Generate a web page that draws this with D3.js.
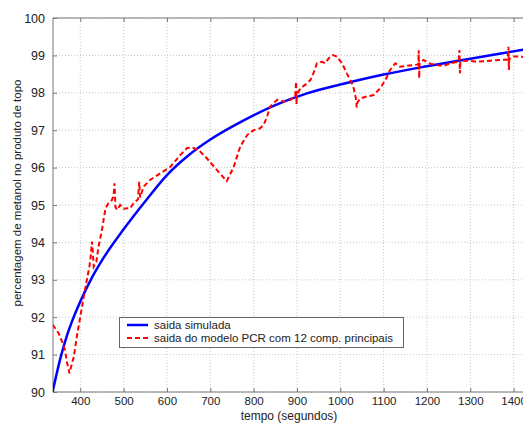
<!DOCTYPE html>
<html>
<head>
<meta charset="utf-8">
<script src="https://cdn.jsdelivr.net/npm/d3@7"></script>
<style>
  html, body { margin: 0; padding: 0; background: #fff; overflow: hidden; }
  svg { display: block; font-family: "Liberation Sans", Arial, sans-serif; }
</style>
</head>
<body>
<svg id="chart" width="523" height="423"></svg>
<script>
// ---- data ----
const xTicks = [400, 500, 600, 700, 800, 900, 1000, 1100, 1200, 1300, 1400];
const yTicks = [90, 91, 92, 93, 94, 95, 96, 97, 98, 99, 100];

const simTime = [336, 354, 369, 380, 400, 425, 450, 500, 550, 600, 650, 700, 775, 850, 925, 1000, 1100, 1200, 1300, 1425];
const simValue = [90.0, 90.9, 91.5, 91.86, 92.42, 93.02, 93.52, 94.35, 95.1, 95.8, 96.33, 96.75, 97.25, 97.67, 97.99, 98.22, 98.49, 98.71, 98.91, 99.16];

const pcrTime = [336, 350, 361, 365, 369, 375, 378, 385, 392, 400, 408, 415, 421, 424, 427, 429, 431, 437, 442, 450, 458, 465, 473, 477, 479, 481, 485, 492, 500, 508, 515, 523, 533, 536, 538, 546, 561, 585, 608, 631, 646, 658, 673, 692, 715, 738, 754, 769, 785, 800, 815, 823, 831, 838, 854, 869, 885, 896, 898, 899, 900, 908, 923, 931, 938, 946, 958, 965, 973, 983, 992, 1004, 1015, 1025, 1031, 1036, 1038, 1040, 1046, 1061, 1077, 1092, 1104, 1115, 1127, 1138, 1154, 1169, 1180, 1181, 1182, 1183, 1192, 1204, 1223, 1238, 1254, 1273, 1275, 1276, 1277, 1292, 1315, 1346, 1369, 1386, 1388, 1389, 1390, 1400, 1415, 1425];
const pcrValue = [91.8, 91.57, 91.26, 91.1, 90.81, 90.5, 90.64, 90.94, 91.48, 92.01, 92.55, 92.99, 93.35, 93.62, 94.02, 93.71, 93.35, 93.48, 93.88, 94.33, 94.91, 95.05, 95.13, 95.27, 95.58, 94.95, 94.87, 95.0, 94.9, 94.91, 94.91, 95.05, 95.15, 95.62, 95.2, 95.49, 95.67, 95.85, 96.02, 96.34, 96.52, 96.54, 96.47, 96.25, 95.94, 95.64, 96.02, 96.56, 96.87, 97.0, 97.05, 97.14, 97.36, 97.63, 97.81, 97.76, 97.81, 97.9, 98.3, 97.7, 97.95, 98.12, 98.25, 98.34, 98.52, 98.79, 98.83, 98.79, 98.92, 99.01, 98.97, 98.79, 98.52, 98.3, 98.12, 97.85, 97.61, 97.75, 97.85, 97.9, 97.94, 98.12, 98.34, 98.61, 98.79, 98.7, 98.72, 98.74, 98.76, 99.14, 98.39, 98.8, 98.88, 98.79, 98.74, 98.72, 98.79, 98.83, 99.14, 98.52, 98.83, 98.86, 98.83, 98.86, 98.88, 98.89, 99.23, 98.61, 98.9, 98.97, 98.97, 98.95];

const legendLabels = ["saida simulada", "saida do modelo PCR com 12 comp. principais"];
const xLabel = "tempo (segundos)";
const yLabel = "percentagem de metanol no produto de topo";

// ---- layout ----
const svg = d3.select("#chart");
const mLeft = 53, mTop = 18, mBottom = 392;
const x = d3.scaleLinear().domain([337, 1440]).range([mLeft, mLeft + 1103 * 0.43333]);
const y = d3.scaleLinear().domain([90, 100]).range([mBottom, mTop]);
const mRight = x.range()[1];

svg.append("defs").append("clipPath").attr("id", "clip")
  .append("rect").attr("x", mLeft).attr("y", mTop).attr("width", mRight - mLeft).attr("height", mBottom - mTop);

// grid
const grid = svg.append("g");
grid.selectAll("line.vx").data(xTicks).enter().append("line")
  .attr("x1", d => x(d)).attr("x2", d => x(d)).attr("y1", mTop).attr("y2", mBottom)
  .attr("stroke", "#c8c8c8").attr("stroke-width", 1).attr("stroke-dasharray", "1,2");
grid.selectAll("line.hy").data(yTicks).enter().append("line")
  .attr("x1", mLeft).attr("x2", mRight).attr("y1", d => y(d)).attr("y2", d => y(d))
  .attr("stroke", "#c8c8c8").attr("stroke-width", 1).attr("stroke-dasharray", "1,2");

// axes box
const axisColor = "#777";
svg.append("line").attr("x1", mLeft).attr("x2", mLeft).attr("y1", mTop).attr("y2", mBottom).attr("stroke", axisColor);
svg.append("line").attr("x1", mLeft).attr("x2", mRight).attr("y1", mTop).attr("y2", mTop).attr("stroke", axisColor);
svg.append("line").attr("x1", mLeft).attr("x2", mRight).attr("y1", mBottom).attr("y2", mBottom).attr("stroke", axisColor);

// axes via d3 (ticks inward)
const xAxisB = d3.axisBottom(x).tickValues(xTicks).tickSize(-4).tickPadding(5).tickFormat(d3.format("d"));
const gxb = svg.append("g").attr("transform", `translate(0,${mBottom})`).call(xAxisB);
const xAxisT = d3.axisTop(x).tickValues(xTicks).tickSize(-4).tickFormat("");
const gxt = svg.append("g").attr("transform", `translate(0,${mTop})`).call(xAxisT);
const yAxisL = d3.axisLeft(y).tickValues(yTicks).tickSize(-4).tickPadding(8).tickFormat(d3.format("d"));
const gyl = svg.append("g").attr("transform", `translate(${mLeft},0)`).call(yAxisL);
[gxb, gxt, gyl].forEach(g => {
  g.select(".domain").remove();
  g.selectAll(".tick line").attr("stroke", axisColor);
  g.selectAll(".tick text").attr("fill", "#222").style("font-family", '"Liberation Sans", Arial, sans-serif');
});
gxb.selectAll(".tick text").style("font-size", "11.5px");
gyl.selectAll(".tick text").style("font-size", "12.5px");

// lines
const plot = svg.append("g").attr("clip-path", "url(#clip)");
const simData = simTime.map((t, i) => [t, simValue[i]]);
const pcrData = pcrTime.map((t, i) => [t, pcrValue[i]]);

plot.append("path").datum(simData)
  .attr("fill", "none").attr("stroke", "#0000ff").attr("stroke-width", 2.5)
  .attr("d", d3.line().x(d => x(d[0])).y(d => y(d[1])).curve(d3.curveMonotoneX));

plot.append("path").datum(pcrData)
  .attr("fill", "none").attr("stroke", "#ff0000").attr("stroke-width", 2)
  .attr("stroke-dasharray", "5,3")
  .attr("d", d3.line().x(d => x(d[0])).y(d => y(d[1])));

// legend
const lg = svg.append("g");
lg.append("rect").attr("x", 119.5).attr("y", 317.5).attr("width", 284).attr("height", 30)
  .attr("fill", "#fff").attr("stroke", "#666");
const lgStyles = [
  { color: "#0000ff", dash: null, width: 2.5 },
  { color: "#ff0000", dash: "5,3", width: 2 }
];
legendLabels.forEach((lab, i) => {
  const yy = 325 + i * 13;
  lg.append("line").attr("x1", 127).attr("x2", 148).attr("y1", yy).attr("y2", yy)
    .attr("stroke", lgStyles[i].color).attr("stroke-width", lgStyles[i].width)
    .attr("stroke-dasharray", lgStyles[i].dash);
  lg.append("text").attr("x", 154).attr("y", yy + 4).attr("fill", "#222")
    .style("font-size", "11.5px").text(lab);
});

// axis labels
svg.append("text").attr("x", 289).attr("y", 420).attr("text-anchor", "middle")
  .attr("fill", "#222").style("font-size", "12px").text(xLabel);
svg.append("text").attr("transform", "translate(21,193) rotate(-90)").attr("text-anchor", "middle")
  .attr("fill", "#222").style("font-size", "11.5px").text(yLabel);
</script>
</body>
</html>
